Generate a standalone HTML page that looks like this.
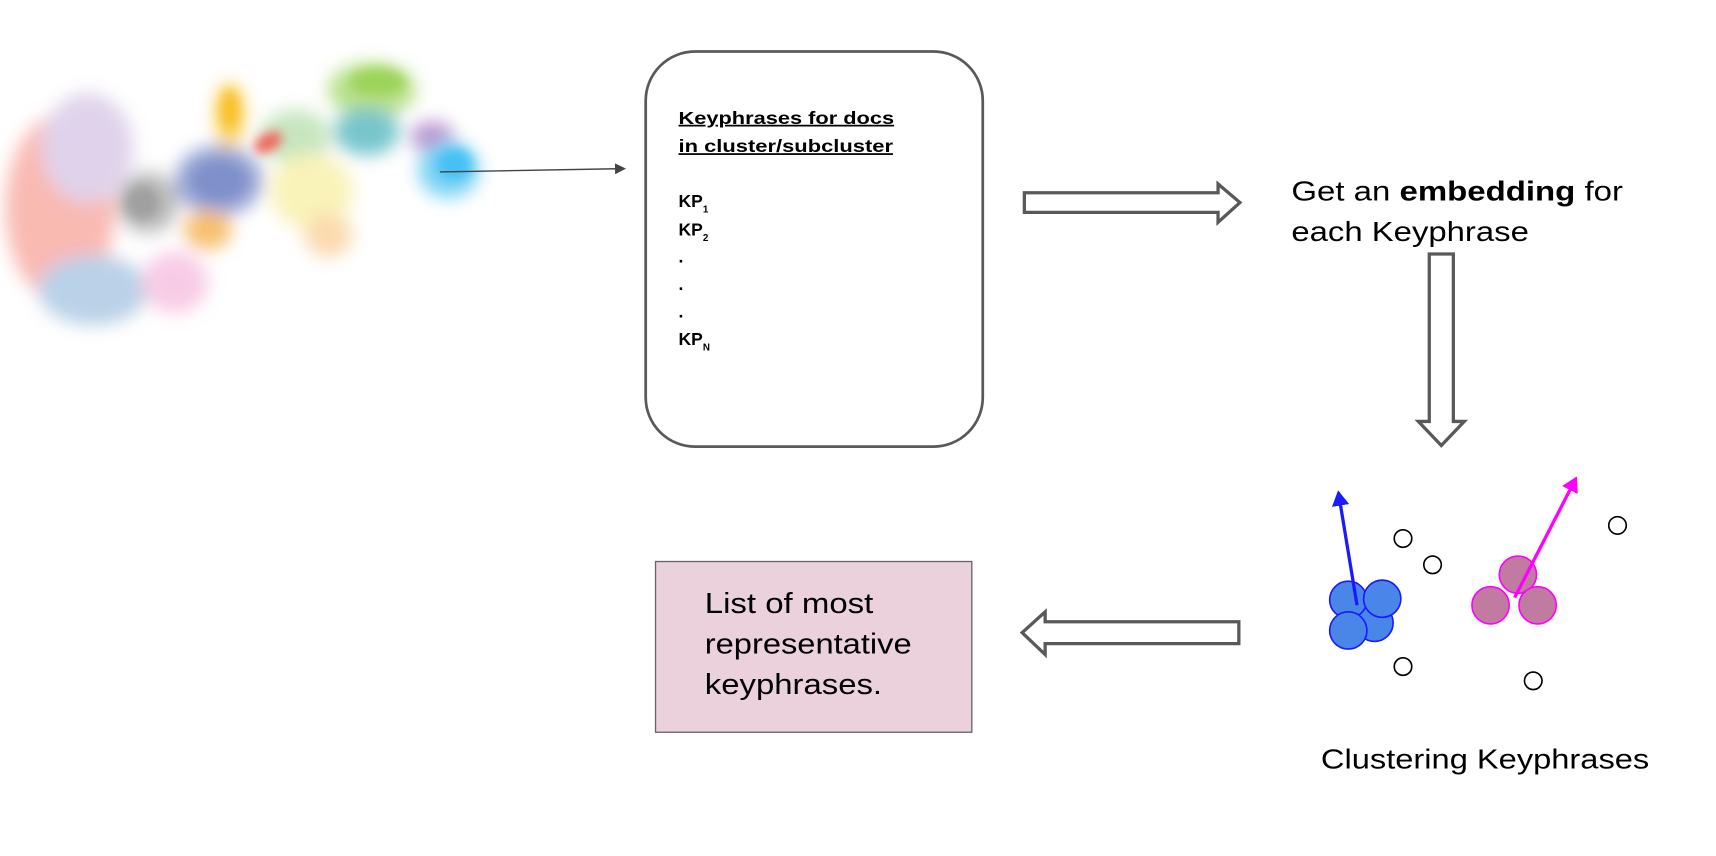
<!DOCTYPE html>
<html><head><meta charset="utf-8"><style>html,body{margin:0;padding:0;background:#fff;}svg{display:block}</style></head>
<body>
<svg width="1716" height="856" viewBox="0 0 1568 782" xmlns="http://www.w3.org/2000/svg" font-family="Liberation Sans, Arial, sans-serif">
<defs>
<filter id="b" x="-30%" y="-30%" width="160%" height="160%"><feGaussianBlur stdDeviation="8"/></filter>
<filter id="b2" x="-30%" y="-30%" width="160%" height="160%"><feGaussianBlur stdDeviation="5"/></filter>
<marker id="ah" markerWidth="10" markerHeight="10" refX="8" refY="5" orient="auto" markerUnits="userSpaceOnUse"><path d="M0,0 L10,5 L0,10 z" fill="#444"/></marker>
<marker id="ab" markerWidth="14" markerHeight="16" refX="12" refY="8" orient="auto" markerUnits="userSpaceOnUse"><path d="M0,0 L14,8 L0,16 z" fill="#1a1aff"/></marker>
<marker id="am" markerWidth="14" markerHeight="16" refX="12" refY="8" orient="auto" markerUnits="userSpaceOnUse"><path d="M0,0 L14,8 L0,16 z" fill="#ff00ff"/></marker>
</defs>
<rect width="1568" height="782" fill="#fff"/>
<g filter="url(#b)" opacity="0.8">
<ellipse cx="55" cy="190" rx="50" ry="85" fill="#f8a9a0"/>
<ellipse cx="80" cy="135" rx="42" ry="50" fill="#d8c8e6"/>
<ellipse cx="85" cy="265" rx="50" ry="32" fill="#a9c6e2"/>
<ellipse cx="160" cy="258" rx="30" ry="28" fill="#f6bfe0"/>
<ellipse cx="135" cy="185" rx="28" ry="28" fill="#aaaaaa"/>
<ellipse cx="200" cy="165" rx="40" ry="32" fill="#7b8cc8"/>
<ellipse cx="210" cy="105" rx="14" ry="30" fill="#f9c93c"/>
<ellipse cx="190" cy="210" rx="22" ry="18" fill="#f5b04a"/>
<ellipse cx="270" cy="125" rx="32" ry="25" fill="#b9e0b0"/>
<ellipse cx="285" cy="175" rx="38" ry="35" fill="#f8f0a8"/>
<ellipse cx="300" cy="215" rx="22" ry="20" fill="#f9d19a"/>
<ellipse cx="340" cy="82" rx="40" ry="25" fill="#a6d86a"/>
<ellipse cx="335" cy="120" rx="30" ry="22" fill="#55b8c0"/>
<ellipse cx="395" cy="125" rx="20" ry="14" fill="#a77bc4"/>
<ellipse cx="410" cy="155" rx="28" ry="26" fill="#5cc8f2"/>
</g>
<g filter="url(#b2)">
<ellipse cx="245" cy="130" rx="14" ry="8" fill="#f0645a" transform="rotate(-30 245 130)"/>
<ellipse cx="200" cy="165" rx="25" ry="18" fill="#7b8cc8" opacity="0.8"/>
<ellipse cx="130" cy="185" rx="16" ry="16" fill="#999" opacity="0.8"/>
<ellipse cx="210" cy="100" rx="8" ry="18" fill="#f9c02a"/>
<ellipse cx="415" cy="150" rx="16" ry="14" fill="#45c0f5"/>
<ellipse cx="345" cy="75" rx="25" ry="12" fill="#9bd45a"/>
</g>
<line x1="402" y1="157" x2="570" y2="154" stroke="#444" stroke-width="1.3" marker-end="url(#ah)"/>
<rect x="590" y="47" width="308" height="361" rx="45" fill="#fff" stroke="#595959" stroke-width="2.5"/>
<g font-size="16" font-weight="bold" fill="#000">
<text x="620" y="113" text-decoration="underline" textLength="197" lengthAdjust="spacingAndGlyphs">Keyphrases for docs</text>
<text x="620" y="139" text-decoration="underline" textLength="196" lengthAdjust="spacingAndGlyphs">in cluster/subcluster</text>
<text x="620" y="189">KP<tspan font-size="9" dy="5">1</tspan></text>
<text x="620" y="215">KP<tspan font-size="9" dy="5">2</tspan></text>
<text x="620" y="240">.</text>
<text x="620" y="265">.</text>
<text x="620" y="290">.</text>
<text x="620" y="315">KP<tspan font-size="9" dy="5">N</tspan></text>
</g>
<polygon points="936,176 1113,176 1113,168 1133,185 1113,203 1113,194 936,194" fill="#fff" stroke="#595959" stroke-width="3"/>
<polygon points="1306,232 1328,232 1328,385 1338,385 1317,407 1296,385 1306,385" fill="#fff" stroke="#595959" stroke-width="3"/>
<polygon points="1132,568 955,568 955,559 934,578 955,598 955,588 1132,588" fill="#fff" stroke="#595959" stroke-width="3"/>
<text x="1180" y="183" font-size="25" fill="#000" textLength="303" lengthAdjust="spacingAndGlyphs">Get an <tspan font-weight="bold">embedding</tspan> for</text>
<text x="1180" y="220" font-size="25" fill="#000" textLength="217" lengthAdjust="spacingAndGlyphs">each Keyphrase</text>
<g stroke="#1a1aff" stroke-width="1.5" fill="#4a86e8">
<circle cx="1256" cy="569" r="17"/>
<circle cx="1232" cy="548" r="17"/>
<circle cx="1263" cy="547" r="17"/>
<circle cx="1232" cy="576" r="17"/>
</g>
<g stroke="#ff00ff" stroke-width="1.5" fill="#c27ba0">
<circle cx="1387" cy="525" r="17"/>
<circle cx="1362" cy="553" r="17"/>
<circle cx="1405" cy="553" r="17"/>
</g>
<line x1="1240" y1="553" x2="1223" y2="450" stroke="#1a1aff" stroke-width="3" marker-end="url(#ab)"/>
<line x1="1384" y1="546" x2="1440" y2="437" stroke="#ff00ff" stroke-width="3" marker-end="url(#am)"/>
<g fill="#fff" stroke="#000" stroke-width="1.5">
<circle cx="1282" cy="492" r="8"/>
<circle cx="1309" cy="516" r="8"/>
<circle cx="1478" cy="480" r="8"/>
<circle cx="1282" cy="609" r="8"/>
<circle cx="1401" cy="622" r="8"/>
</g>
<text x="1207" y="702" font-size="25" fill="#000" textLength="300" lengthAdjust="spacingAndGlyphs">Clustering Keyphrases</text>
<rect x="599" y="513" width="289" height="156" fill="#ead1dc" stroke="#666" stroke-width="1.2"/>
<g font-size="26" fill="#000">
<text x="644" y="560" textLength="154" lengthAdjust="spacingAndGlyphs">List of most</text>
<text x="644" y="597" textLength="189" lengthAdjust="spacingAndGlyphs">representative</text>
<text x="644" y="634" textLength="162" lengthAdjust="spacingAndGlyphs">keyphrases.</text>
</g>
</svg>
</body></html>
